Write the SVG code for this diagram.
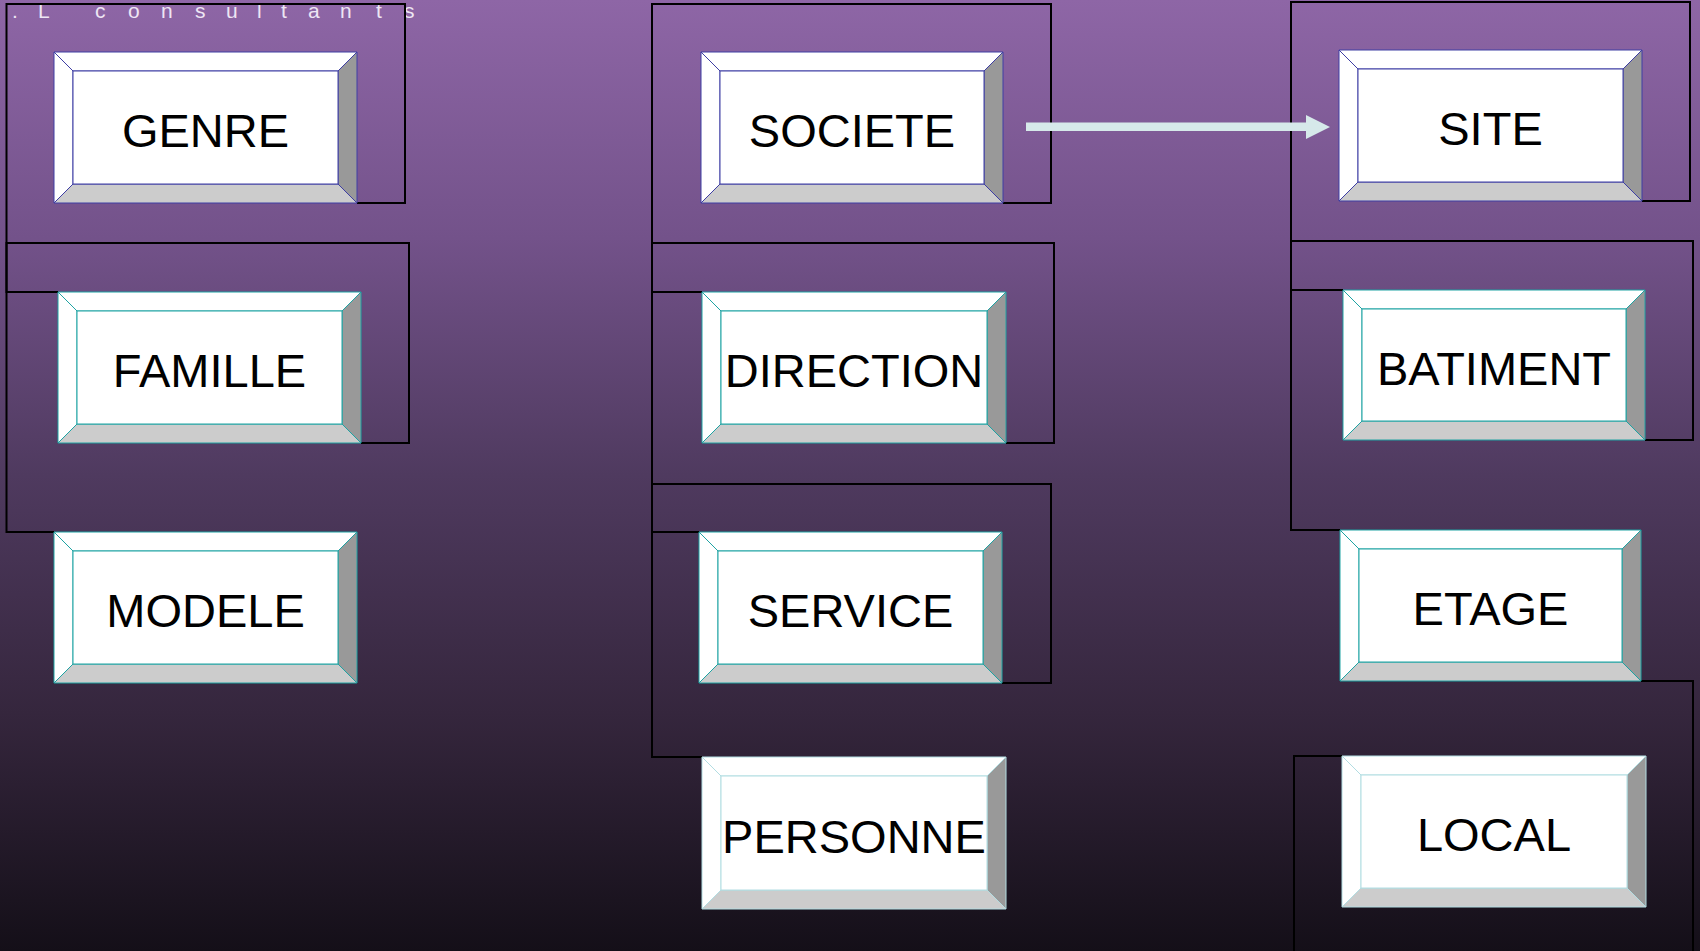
<svg xmlns="http://www.w3.org/2000/svg" width="1700" height="951" viewBox="0 0 1700 951">
<defs>
<linearGradient id="bg" x1="0" y1="0" x2="0" y2="1">
<stop offset="0" stop-color="#8e66a6"/>
<stop offset="0.25" stop-color="#73528a"/>
<stop offset="0.5" stop-color="#4f3a5f"/>
<stop offset="0.75" stop-color="#35263d"/>
<stop offset="1" stop-color="#140f18"/>
</linearGradient>
</defs>
<style>
.lbl{font-family:"Liberation Sans",Arial,sans-serif;font-size:47px;fill:#000;text-anchor:middle}
.title{font-family:"Liberation Sans",Arial,sans-serif;font-size:21px;fill:#eee6f4}
.w{fill:#fff}.b{fill:#cccccc}.r{fill:#999999}
.ind polygon,.ind rect{stroke:#3e3ea4;stroke-width:1}
.tea polygon,.tea rect{stroke:#1ea3a3;stroke-width:1}
.lig polygon,.lig rect{stroke:#b2dde2;stroke-width:1}
.conn{fill:none;stroke:#000;stroke-width:2}
.arrow{fill:#d6e9ea}
</style>
<rect width="1700" height="951" fill="url(#bg)"/>
<text class="title" x="12 38 95 128 161 195 226 257 281 308 340 376 404" y="18">.Lconsultants</text>

<g id="connectors">
<path class="conn" d="M357,203 H405 V4 H6.5 V532 H54"/>
<path class="conn" d="M361,443 H409 V243 H6.5 V292 H58"/>
<path class="conn" d="M1003,203 H1051 V4 H652 V757 H702"/>
<path class="conn" d="M1006,443 H1054 V243 H652 V292 H702"/>
<path class="conn" d="M1002,683 H1051 V484 H652 V532 H699"/>
<path class="conn" d="M1642,201 H1690 V2 H1291 V530 H1340"/>
<path class="conn" d="M1645,440 H1693 V241 H1291 V290 H1343"/>
<path class="conn" d="M1641,681 H1693 V951"/>
<path class="conn" d="M1342,756 H1294 V951"/>
<polygon class="arrow" points="1026,122.5 1306,122.5 1306,115 1330,127 1306,139 1306,131 1026,131"/>
</g>

<g id="node-genre" class="ind">
<polygon class="w" points="54,52 357,52 338,71 73,71"/>
<polygon class="w" points="54,52 73,71 73,184 54,203"/>
<polygon class="b" points="54,203 73,184 338,184 357,203"/>
<polygon class="r" points="357,52 357,203 338,184 338,71"/>
<rect class="w" x="73" y="71" width="265" height="113"/>
<text class="lbl" x="205.5" y="147">GENRE</text>
</g>

<g id="node-famille" class="tea">
<polygon class="w" points="58,292 361,292 342,311 77,311"/>
<polygon class="w" points="58,292 77,311 77,424 58,443"/>
<polygon class="b" points="58,443 77,424 342,424 361,443"/>
<polygon class="r" points="361,292 361,443 342,424 342,311"/>
<rect class="w" x="77" y="311" width="265" height="113"/>
<text class="lbl" x="209.5" y="387">FAMILLE</text>
</g>

<g id="node-modele" class="tea">
<polygon class="w" points="54,532 357,532 338,551 73,551"/>
<polygon class="w" points="54,532 73,551 73,664 54,683"/>
<polygon class="b" points="54,683 73,664 338,664 357,683"/>
<polygon class="r" points="357,532 357,683 338,664 338,551"/>
<rect class="w" x="73" y="551" width="265" height="113"/>
<text class="lbl" x="205.5" y="627">MODELE</text>
</g>

<g id="node-societe" class="ind">
<polygon class="w" points="701,52 1003,52 984,71 720,71"/>
<polygon class="w" points="701,52 720,71 720,184 701,203"/>
<polygon class="b" points="701,203 720,184 984,184 1003,203"/>
<polygon class="r" points="1003,52 1003,203 984,184 984,71"/>
<rect class="w" x="720" y="71" width="264" height="113"/>
<text class="lbl" x="852" y="147">SOCIETE</text>
</g>

<g id="node-direction" class="tea">
<polygon class="w" points="702,292 1006,292 987,311 721,311"/>
<polygon class="w" points="702,292 721,311 721,424 702,443"/>
<polygon class="b" points="702,443 721,424 987,424 1006,443"/>
<polygon class="r" points="1006,292 1006,443 987,424 987,311"/>
<rect class="w" x="721" y="311" width="266" height="113"/>
<text class="lbl" x="854" y="387">DIRECTION</text>
</g>

<g id="node-service" class="tea">
<polygon class="w" points="699,532 1002,532 983,551 718,551"/>
<polygon class="w" points="699,532 718,551 718,664 699,683"/>
<polygon class="b" points="699,683 718,664 983,664 1002,683"/>
<polygon class="r" points="1002,532 1002,683 983,664 983,551"/>
<rect class="w" x="718" y="551" width="265" height="113"/>
<text class="lbl" x="850.5" y="627">SERVICE</text>
</g>

<g id="node-personne" class="lig">
<polygon class="w" points="702,757 1006,757 987,776 721,776"/>
<polygon class="w" points="702,757 721,776 721,890 702,909"/>
<polygon class="b" points="702,909 721,890 987,890 1006,909"/>
<polygon class="r" points="1006,757 1006,909 987,890 987,776"/>
<rect class="w" x="721" y="776" width="266" height="114"/>
<text class="lbl" x="854" y="852.5">PERSONNE</text>
</g>

<g id="node-site" class="ind">
<polygon class="w" points="1339,50 1642,50 1623,69 1358,69"/>
<polygon class="w" points="1339,50 1358,69 1358,182 1339,201"/>
<polygon class="b" points="1339,201 1358,182 1623,182 1642,201"/>
<polygon class="r" points="1642,50 1642,201 1623,182 1623,69"/>
<rect class="w" x="1358" y="69" width="265" height="113"/>
<text class="lbl" x="1490.5" y="145">SITE</text>
</g>

<g id="node-batiment" class="tea">
<polygon class="w" points="1343,290 1645,290 1626,309 1362,309"/>
<polygon class="w" points="1343,290 1362,309 1362,421 1343,440"/>
<polygon class="b" points="1343,440 1362,421 1626,421 1645,440"/>
<polygon class="r" points="1645,290 1645,440 1626,421 1626,309"/>
<rect class="w" x="1362" y="309" width="264" height="112"/>
<text class="lbl" x="1494" y="384.5">BATIMENT</text>
</g>

<g id="node-etage" class="tea">
<polygon class="w" points="1340,530 1641,530 1622,549 1359,549"/>
<polygon class="w" points="1340,530 1359,549 1359,662 1340,681"/>
<polygon class="b" points="1340,681 1359,662 1622,662 1641,681"/>
<polygon class="r" points="1641,530 1641,681 1622,662 1622,549"/>
<rect class="w" x="1359" y="549" width="263" height="113"/>
<text class="lbl" x="1490.5" y="625">ETAGE</text>
</g>

<g id="node-local" class="lig">
<polygon class="w" points="1342,756 1646,756 1627,775 1361,775"/>
<polygon class="w" points="1342,756 1361,775 1361,888 1342,907"/>
<polygon class="b" points="1342,907 1361,888 1627,888 1646,907"/>
<polygon class="r" points="1646,756 1646,907 1627,888 1627,775"/>
<rect class="w" x="1361" y="775" width="266" height="113"/>
<text class="lbl" x="1494" y="851">LOCAL</text>
</g>
</svg>
